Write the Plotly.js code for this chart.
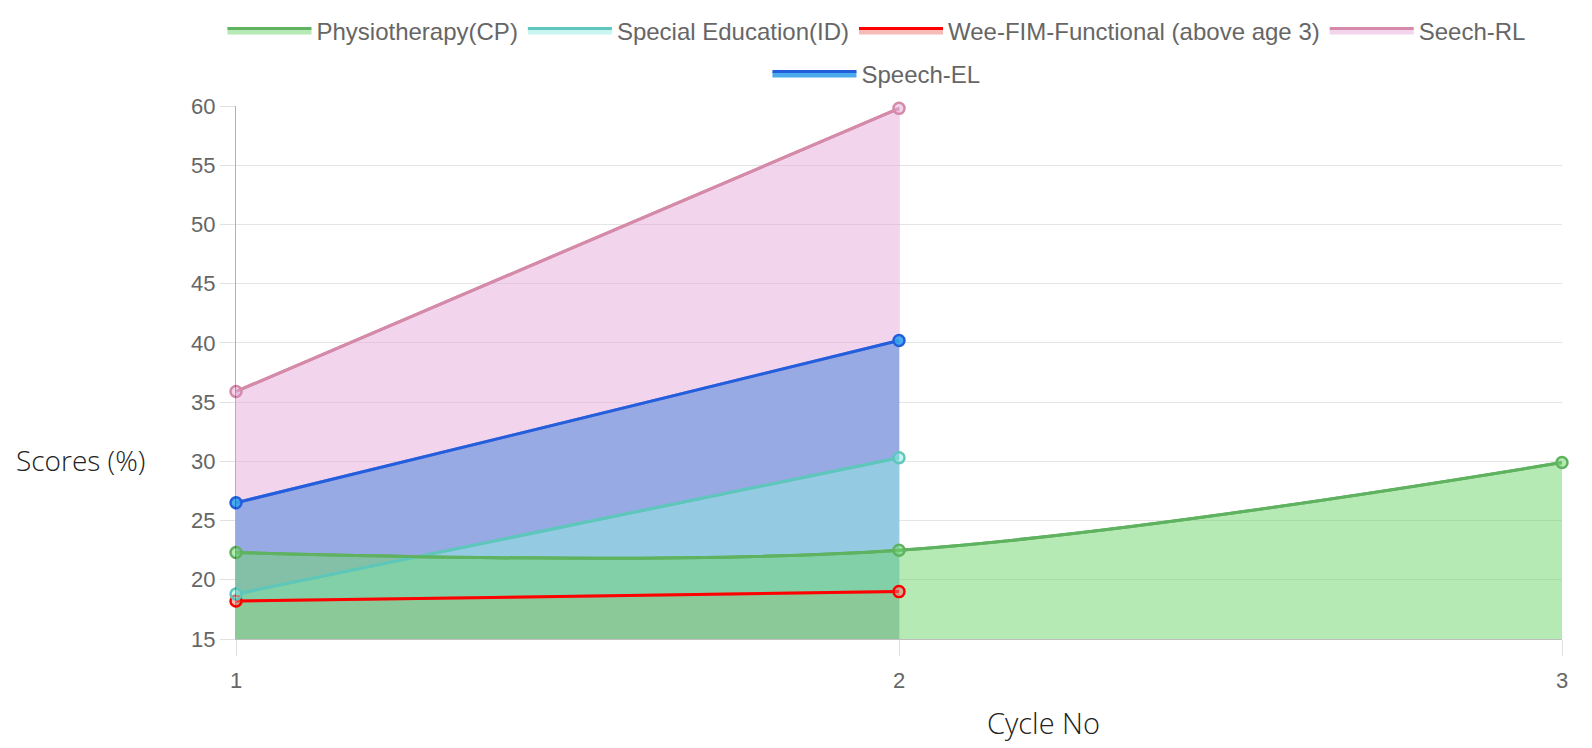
<!DOCTYPE html>
<html>
<head>
<meta charset="utf-8">
<script src="https://cdn.plot.ly/plotly-3.0.1.min.js"></script>
<style>html,body{margin:0;padding:0;background:#fff;}#chart{width:1592px;height:748px;}</style>
</head>
<body>
<div id="chart"></div>
<script>
const cycles = [1, 2, 3];
const physiotherapy = [22.3, 22.5, 29.9];
const specialEducation = [18.8, 30.3, null];
const weeFim = [18.2, 19.0, null];
const seechRL = [35.9, 59.8, null];
const speechEL = [26.5, 40.2, null];

const seriesNames = ["Physiotherapy(CP)", "Special Education(ID)", "Wee-FIM-Functional (above age 3)", "Seech-RL", "Speech-EL"];
const seriesValues = [physiotherapy, specialEducation, weeFim, seechRL, speechEL];
const lineColors = ["rgb(95,178,95)", "rgb(95,198,188)", "rgb(255,0,0)", "rgb(212,138,168)", "rgb(35,95,220)"];
const fillColors = ["rgba(110,214,107,0.5)", "rgba(146,235,226,0.5)", "rgba(241,115,115,0.5)", "rgba(229,169,217,0.5)", "rgba(54,162,235,0.9)"];
const legendOf = ["legend", "legend", "legend", "legend", "legend2"];

const traces = [];
// fills first (last dataset at the bottom), these also carry the legend entries
for (let i = seriesNames.length - 1; i >= 0; i--) {
  traces.push({
    type: 'scatter', mode: 'lines', name: seriesNames[i],
    x: cycles, y: seriesValues[i],
    fill: 'tozeroy', fillcolor: fillColors[i],
    line: {color: lineColors[i], shape: 'spline', smoothing: 1.0, width: 3},
    legend: legendOf[i], hoverinfo: 'skip'
  });
}
// lines and points on top of all fills
for (let i = seriesNames.length - 1; i >= 0; i--) {
  traces.push({
    type: 'scatter', mode: 'lines+markers', name: seriesNames[i],
    x: cycles, y: seriesValues[i],
    line: {color: lineColors[i], width: 3, shape: 'spline', smoothing: 1.0},
    marker: {size: 11, color: fillColors[i], line: {color: lineColors[i], width: 2.5}},
    showlegend: false,
    cliponaxis: false
  });
}

const tickFont = {family: 'Liberation Sans, Arial, sans-serif', size: 22, color: '#666'};
const legendFont = {family: 'Liberation Sans, Arial, sans-serif', size: 24, color: '#666'};
const layout = {
  width: 1592, height: 748,
  margin: {l: 236, r: 30, t: 106, b: 109, autoexpand: false},
  paper_bgcolor: '#fff', plot_bgcolor: '#fff',
  showlegend: true,
  legend: {
    orientation: 'h', x: 0.483, xanchor: 'center', y: 1.1407, yanchor: 'middle',
    traceorder: 'reversed', font: legendFont, itemwidth: 84, bgcolor: 'rgba(0,0,0,0)'
  },
  legend2: {
    orientation: 'h', x: 0.483, xanchor: 'center', y: 1.060, yanchor: 'middle',
    font: legendFont, itemwidth: 84, bgcolor: 'rgba(0,0,0,0)'
  },
  xaxis: {
    range: [1, 3], tickvals: cycles, ticktext: cycles.map(String),
    showgrid: true, gridcolor: 'rgba(0,0,0,0.1)', gridwidth: 1,
    ticks: 'outside', ticklen: 16, tickcolor: 'rgba(0,0,0,0.12)', ticklabelstandoff: 6,
    showline: true, linecolor: 'rgba(0,0,0,0.25)', linewidth: 1,
    zeroline: false, tickfont: tickFont
  },
  yaxis: {
    range: [15, 60], dtick: 5, tick0: 15,
    showgrid: true, gridcolor: 'rgba(0,0,0,0.1)', gridwidth: 1,
    ticks: 'outside', ticklen: 15, tickcolor: 'rgba(0,0,0,0.12)',
    showline: true, linecolor: 'rgba(0,0,0,0.3)', linewidth: 1,
    zeroline: false, tickfont: tickFont
  },
  annotations: [
    {text: 'Scores (%)', xref: 'paper', yref: 'paper', x: -0.1176, y: 0.336, xanchor: 'center', yanchor: 'middle', showarrow: false,
     font: {family: 'Open Sans, sans-serif', size: 28, color: '#222', weight: 300}},
    {text: 'Cycle No', xref: 'paper', yref: 'paper', x: 0.609, y: -0.156, xanchor: 'center', yanchor: 'middle', showarrow: false,
     font: {family: 'Open Sans, sans-serif', size: 29, color: '#222', weight: 300}}
  ]
};

Plotly.newPlot('chart', traces, layout, {displayModeBar: false, staticPlot: true});
</script>
</body>
</html>
